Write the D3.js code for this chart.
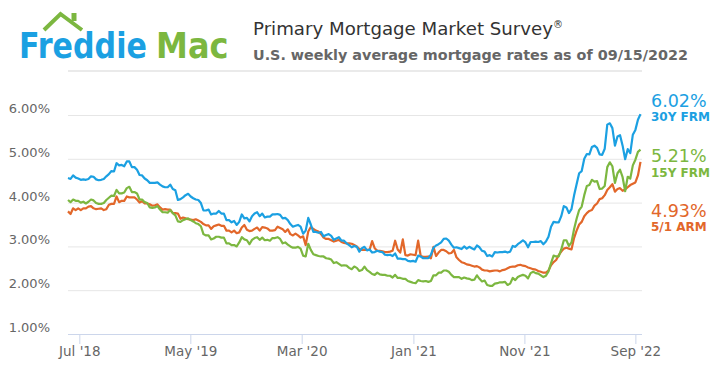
<!DOCTYPE html>
<html><head><meta charset="utf-8">
<script src="https://cdn.jsdelivr.net/npm/d3@7"></script>
<style>
html,body{margin:0;padding:0;background:#fff;}
svg{display:block;}
text{font-family:"DejaVu Sans","Liberation Sans",sans-serif;}
</style></head><body>
<svg id="chart" width="720" height="378"></svg>
<script>
// ---- DATA (weekly Freddie Mac PMMS, 05/31/2018 - 09/15/2022) ----
const startDate = "2018-05-31";
const endDate = "2022-09-15";

const frm30 = [
 // 2018
 4.56,4.54,4.62,4.57,4.55, 4.52,4.53,4.52,4.54, 4.60,4.59,4.53,4.51,4.52, 4.54,4.60,4.65,4.72, 4.71,4.90,4.85,4.86, 4.83,4.94,4.94,4.81,4.81, 4.75,4.63,4.62,4.55,
 // 2019
 4.51,4.45,4.45,4.45,4.46, 4.41,4.37,4.35,4.35, 4.41,4.31,4.28,4.06, 4.08,4.12,4.17,4.20, 4.14,4.10,4.07,4.06,3.99, 3.82,3.82,3.84,3.73, 3.75,3.75,3.81,3.75, 3.75,3.60,3.60,3.55,3.58, 3.49,3.56,3.73,3.64, 3.65,3.57,3.69,3.75,3.78, 3.69,3.75,3.66,3.68, 3.68,3.73,3.73,3.74,
 // 2020
 3.72,3.64,3.65,3.60,3.51, 3.45,3.47,3.49,3.45, 3.29,3.36,3.65,3.50, 3.33,3.33,3.31,3.33,3.23, 3.26,3.28,3.24,3.15, 3.18,3.21,3.13,3.13, 3.07,3.03,2.98,3.01,2.99, 2.88,2.96,2.99,2.91, 2.93,2.86,2.87,2.90, 2.88,2.87,2.81,2.80,2.81, 2.78,2.84,2.72,2.72, 2.71,2.71,2.67,2.66,2.67,
 // 2021
 2.65,2.79,2.77,2.73, 2.73,2.73,2.81,2.97, 3.02,3.05,3.09,3.17, 3.18,3.13,3.04,2.97,2.98, 2.96,2.94,3.00,2.95, 2.99,2.96,2.93,3.02, 2.98,2.90,2.88,2.78,2.80, 2.77,2.87,2.86,2.87, 2.87,2.88,2.86,2.88,3.01, 2.99,3.05,3.09,3.14, 3.09,2.98,3.10,3.10, 3.11,3.10,3.12,3.05,3.11,
 // 2022
 3.22,3.45,3.56,3.55, 3.55,3.69,3.92,3.89, 3.76,3.85,4.16,4.42,4.67, 4.72,5.00,5.11,5.10, 5.27,5.30,5.25,5.10, 5.09,5.23,5.78,5.81,5.70, 5.30,5.51,5.54,5.30, 4.99,5.22,5.13,5.55, 5.66,5.89,6.02
];

const frm15 = [
 // 2018
 4.06,4.01,4.07,4.04,4.04, 4.00,4.02,3.98,4.02, 4.07,4.05,3.99,3.97,3.97, 3.99,4.06,4.11,4.16, 4.15,4.29,4.21,4.21, 4.23,4.33,4.36,4.24,4.24, 4.21,4.07,4.07,4.01,
 // 2019
 3.99,3.89,3.88,3.89,3.92, 3.84,3.78,3.78,3.77, 3.83,3.76,3.71,3.57, 3.56,3.60,3.62,3.64, 3.60,3.57,3.53,3.51,3.46, 3.28,3.25,3.25,3.16, 3.18,3.22,3.22,3.20, 3.20,3.07,3.07,3.03,3.03, 3.00,3.09,3.21,3.16, 3.14,3.05,3.15,3.19,3.21, 3.15,3.20,3.14,3.15, 3.13,3.19,3.19,3.21,
 // 2020
 3.17,3.07,3.09,3.04,3.00, 2.97,2.97,2.99,2.95, 2.79,2.77,3.06,2.92, 2.82,2.80,2.78,2.77,2.77, 2.73,2.72,2.70,2.62, 2.64,2.60,2.56,2.57, 2.56,2.51,2.48,2.54,2.51, 2.44,2.46,2.54,2.46, 2.42,2.37,2.35,2.40, 2.36,2.35,2.35,2.33,2.33, 2.29,2.35,2.28,2.28, 2.26,2.26,2.21,2.19,2.17,
 // 2021
 2.16,2.23,2.21,2.20, 2.21,2.19,2.21,2.34, 2.34,2.40,2.40,2.45, 2.45,2.42,2.35,2.30,2.30, 2.30,2.26,2.29,2.27, 2.26,2.23,2.24,2.34, 2.26,2.20,2.22,2.12,2.10, 2.10,2.15,2.16,2.18, 2.18,2.19,2.12,2.15,2.28, 2.23,2.30,2.33,2.35, 2.33,2.27,2.39,2.42, 2.39,2.38,2.34,2.30,2.33,
 // 2022
 2.43,2.62,2.79,2.77, 2.77,2.93,3.14,3.14, 3.01,3.09,3.39,3.63,3.83, 3.91,4.17,4.38,4.40, 4.52,4.48,4.49,4.31, 4.32,4.38,4.81,4.92,4.83, 4.45,4.67,4.75,4.58, 4.26,4.59,4.55,4.85, 4.98,5.16,5.21
];

const arm51 = [
 // 2018
 3.80,3.74,3.87,3.83,3.87, 3.83,3.87,3.87,3.91, 3.92,3.87,3.85,3.86,3.87, 3.83,3.85,3.95,3.97, 3.97,4.14,4.01,4.04, 4.04,4.14,4.12,4.12,4.12, 4.07,4.00,4.03,3.98,
 // 2019
 3.98,3.96,3.93,3.94,3.96, 3.89,3.84,3.85,3.84, 3.84,3.76,3.76,3.75, 3.63,3.66,3.64,3.62, 3.61,3.60,3.62,3.59,3.56, 3.51,3.48,3.48,3.40, 3.46,3.48,3.50,3.47, 3.47,3.36,3.36,3.32,3.36, 3.30,3.32,3.43,3.49, 3.38,3.35,3.36,3.40,3.43, 3.36,3.44,3.43,3.41, 3.36,3.36,3.37,3.45,
 // 2020
 3.42,3.39,3.33,3.39,3.28, 3.25,3.29,3.25,3.20, 3.23,3.03,3.34,3.44, 3.40,3.36,3.34,3.28,3.20, 3.17,3.17,3.14,3.11, 3.13,3.15,3.10,3.08, 3.07,3.07,3.06,3.03,3.00, 2.94,2.92,2.92,2.92, 2.92,3.12,2.96,2.90, 2.90,2.89,2.87,2.87,2.88, 2.90,3.13,2.93,2.86, 3.16,2.80,2.79,2.82,2.81,
 // 2021
 2.80,3.13,2.78,2.76, 2.76,2.77,2.73,2.99, 2.78,2.86,2.92,2.92, 2.89,2.84,2.85,2.92,2.75, 2.69,2.64,2.62,2.59, 2.58,2.56,2.54,2.55, 2.52,2.47,2.45,2.45,2.43, 2.44,2.45,2.45,2.43, 2.46,2.47,2.50,2.53,2.54, 2.54,2.57,2.58,2.56, 2.55,2.52,2.50,2.48, 2.47,2.44,2.42,2.40,2.40,
 // 2022
 2.45,2.57,2.64,2.69, 2.80,2.88,2.95,2.97, 2.95,2.93,3.19,3.36,3.50, 3.56,3.69,3.76,3.81, 3.83,3.93,3.98,4.08, 4.10,4.17,4.29,4.35,4.42, 4.25,4.31,4.33,4.27, 4.30,4.35,4.40,4.43, 4.46,4.62,4.93
];

const seriesNames = ["30Y FRM", "15Y FRM", "5/1 ARM"];
const seriesColors = ["#1ba0e2", "#7cb740", "#e2672a"];

const xTickDates = ["2018-07-01", "2019-05-01", "2020-03-01", "2021-01-01", "2021-11-01", "2022-09-01"];
const xTickLabels = ["Jul '18", "May '19", "Mar '20", "Jan '21", "Nov '21", "Sep '22"];
const yTickValues = [1, 2, 3, 4, 5, 6];

const titleText = "Primary Mortgage Market Survey";
const subtitleText = "U.S. weekly average mortgage rates as of 09/15/2022";
const logoWords = ["Freddie", "Mac"];

// ---- BUILD ----
const parse = d3.timeParse("%Y-%m-%d");
const dates = d3.timeDay.range(parse(startDate), d3.timeDay.offset(parse(endDate), 1), 7);
const allSeries = [frm30, frm15, arm51];

const svg = d3.select("#chart");
const plotL = 68, plotR = 642, plotT = 115, plotB = 334;

const x = d3.scaleTime().domain([parse(startDate), parse(endDate)]).range([plotL, 640.5]);
const y = d3.scaleLinear().domain([1, 6]).range([plotB, plotT]);

// Logo
const logo = svg.append("g");
logo.append("polyline")
  .attr("points", "44,30 60.5,14 82,30")
  .attr("fill", "none").attr("stroke", "#7cb740").attr("stroke-width", 4)
  .attr("stroke-linejoin", "miter");
logo.append("rect").attr("x", 71.5).attr("y", 13).attr("width", 5).attr("height", 8).attr("fill", "#7cb740");
// each word horizontally scaled to its width in the logo
[[logoWords[0], 19, 128, "#1ba0e2"], [logoWords[1], 156, 72.5, "#7cb740"]].forEach(([w, lx, lw, c]) => {
  const g = logo.append("g");
  const tx = g.append("text").attr("x", 0).attr("y", 0).text(w)
    .attr("font-family", "Lato, 'Open Sans', sans-serif").attr("font-size", 35).attr("font-weight", 600)
    .attr("fill", c);
  const nat = tx.node().getComputedTextLength() || lw;
  g.attr("transform", `translate(${lx},58) scale(${lw / nat},1)`);
});

// Titles
const t = svg.append("text").attr("x", 253).attr("y", 35).attr("font-size", 18).attr("fill", "#333");
t.append("tspan").text(titleText).attr("textLength", 300).attr("lengthAdjust", "spacingAndGlyphs");
t.append("tspan").text("®").attr("font-size", 10).attr("dy", -7);
svg.append("text").attr("x", 253).attr("y", 59.5).attr("font-size", 14.3).attr("font-weight", "bold")
  .attr("fill", "#666").text(subtitleText).attr("textLength", 435).attr("lengthAdjust", "spacingAndGlyphs");

svg.append("line").attr("x1", plotL).attr("x2", plotR).attr("y1", 71).attr("y2", 71)
  .attr("stroke", "#e3e3e3").attr("stroke-width", 1.5);

// Y gridlines + labels
const yAxis = d3.axisLeft(y).tickValues(yTickValues).tickSize(0).tickPadding(0)
  .tickFormat(d => d3.format(".2f")(d) + "%");
const gy = svg.append("g").attr("transform", `translate(${plotL},0)`).call(yAxis);
gy.select(".domain").remove();
gy.selectAll(".tick line").attr("x2", plotR - plotL)
  .attr("stroke", d => d === 1 ? "#ccd6eb" : "#e6e6e6").attr("stroke-width", 1);
gy.selectAll(".tick text").attr("x", -18).attr("dy", -2.5).attr("font-size", 13)
  .attr("fill", "#666").attr("font-family", "'DejaVu Sans', sans-serif");

// X axis
const xAxis = d3.axisBottom(x).tickValues(xTickDates.map(parse)).tickSize(10).tickPadding(0)
  .tickFormat((d, i) => xTickLabels[i]);
const gx = svg.append("g").attr("transform", `translate(0,${plotB})`).call(xAxis);
gx.select(".domain").attr("d", `M${plotL},0.5H${plotR}`).attr("stroke", "#ccd6eb");
gx.selectAll(".tick line").attr("stroke", "#ccd6eb");
gx.selectAll(".tick text").attr("y", 22).attr("dy", 0).attr("font-size", 13.5)
  .attr("fill", "#666").attr("font-family", "'DejaVu Sans', sans-serif");

// Lines
const line = d3.line().x((d, i) => x(dates[i])).y(d => y(d)).curve(d3.curveLinear);
svg.append("g").selectAll("path").data(allSeries.slice().reverse()).join("path")
  .attr("d", line).attr("fill", "none")
  .attr("stroke", (d, i) => seriesColors[2 - i]).attr("stroke-width", 2.2)
  .attr("stroke-linejoin", "round");

// End labels
const valueBase = [106.7, 161.7, 216.7];
const nameBase = [120.7, 176.7, 231.2];
allSeries.forEach((s, i) => {
  svg.append("text").attr("x", 651).attr("y", valueBase[i]).attr("font-size", 17.5)
    .attr("fill", seriesColors[i]).text(d3.format(".2f")(s[s.length - 1]) + "%");
  svg.append("text").attr("x", 651).attr("y", nameBase[i]).attr("font-size", 12).attr("font-weight", "bold")
    .attr("fill", seriesColors[i]).text(seriesNames[i]);
});
</script>
</body></html>
